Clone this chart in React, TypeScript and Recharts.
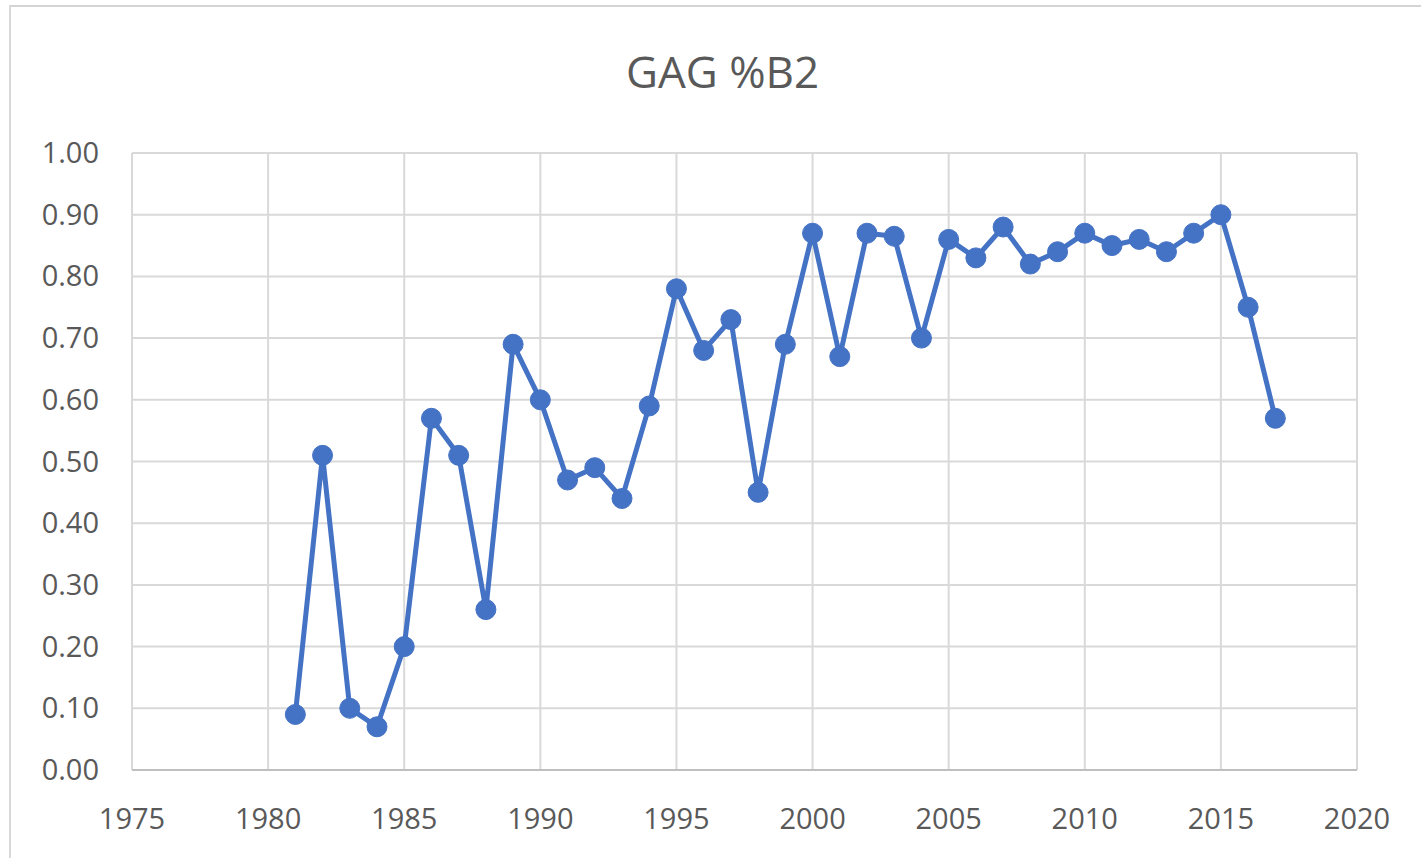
import { CartesianGrid, Line, LineChart, XAxis, YAxis } from "recharts";

const years = [
  1981, 1982, 1983, 1984, 1985, 1986, 1987, 1988, 1989, 1990, 1991, 1992, 1993,
  1994, 1995, 1996, 1997, 1998, 1999, 2000, 2001, 2002, 2003, 2004, 2005, 2006,
  2007, 2008, 2009, 2010, 2011, 2012, 2013, 2014, 2015, 2016, 2017,
];

const gagB2 = [
  0.09, 0.51, 0.1, 0.07, 0.2, 0.57, 0.51, 0.26, 0.69, 0.6, 0.47, 0.49, 0.44,
  0.59, 0.78, 0.68, 0.73, 0.45, 0.69, 0.87, 0.67, 0.87, 0.865, 0.7, 0.86, 0.83,
  0.88, 0.82, 0.84, 0.87, 0.85, 0.86, 0.84, 0.87, 0.9, 0.75, 0.57,
];

const xTicks = [1975, 1980, 1985, 1990, 1995, 2000, 2005, 2010, 2015, 2020];
const yTicks = [0, 0.1, 0.2, 0.3, 0.4, 0.5, 0.6, 0.7, 0.8, 0.9, 1.0];

const data = years.map((year, i) => ({ year, value: gagB2[i] }));

const FONT = "'Open Sans', Calibri, sans-serif";
const TEXT = "#595959";
const BLUE = "#4472C4";

function YTick(props: any) {
  const { y, payload } = props;
  return (
    <text
      x={99}
      y={y}
      dy={10}
      textAnchor="end"
      fill={TEXT}
      fontSize={29}
      fontFamily={FONT}
    >
      {Number(payload.value).toFixed(2)}
    </text>
  );
}

function XTick(props: any) {
  const { x, y, payload } = props;
  return (
    <text
      x={x}
      y={y}
      dy={51}
      textAnchor="middle"
      fill={TEXT}
      fontSize={29}
      fontFamily={FONT}
    >
      {payload.value}
    </text>
  );
}

export default function App() {
  return (
    <div
      style={{
        position: "absolute",
        left: 0,
        top: 0,
        width: 1421,
        height: 858,
        background: "#fff",
        overflow: "hidden",
      }}
    >
      <div
        style={{
          position: "absolute",
          left: 9,
          top: 5,
          width: 1430,
          height: 900,
          borderTop: "2px solid #d4d4d4",
          borderLeft: "2px solid #d9d9d9",
        }}
      />
      <div
        style={{
          position: "absolute",
          left: 0,
          top: 41,
          width: 1445,
          textAlign: "center",
          fontFamily: FONT,
          fontSize: 44,
          color: TEXT,
        }}
      >
        GAG %B2
      </div>
      <div style={{ position: "absolute", left: 0, top: 0 }}>
        <LineChart
          width={1421}
          height={858}
          data={data}
          margin={{ top: 153, right: 64, bottom: 0, left: 0 }}
        >
          <CartesianGrid stroke="#d9d9d9" strokeWidth={2} />
          <XAxis
            dataKey="year"
            type="number"
            domain={[1975, 2020]}
            ticks={xTicks}
            tick={<XTick />}
            tickLine={false}
            axisLine={{ stroke: "#bfbfbf", strokeWidth: 2 }}
            height={88}
          />
          <YAxis
            type="number"
            domain={[0, 1]}
            ticks={yTicks}
            tick={<YTick />}
            tickLine={false}
            axisLine={false}
            width={132}
          />
          <Line
            dataKey="value"
            stroke={BLUE}
            strokeWidth={5}
            dot={{ r: 10, fill: BLUE, stroke: BLUE, strokeWidth: 1 }}
            isAnimationActive={false}
          />
        </LineChart>
      </div>
    </div>
  );
}
